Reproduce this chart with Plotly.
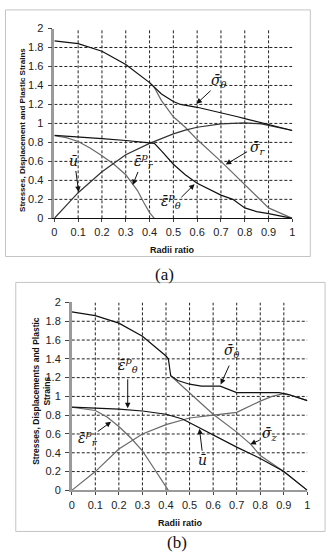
import plotly.graph_objects as go

# ---------------- data (a) ----------------
a_sig_t_x = [0, 0.1, 0.2, 0.3, 0.4, 0.45, 0.5, 0.53, 0.6, 0.7, 0.77, 0.8, 0.9, 1.0]
a_sig_t_y = [1.87, 1.84, 1.76, 1.62, 1.43, 1.31, 1.23, 1.2, 1.17, 1.115, 1.07, 1.05, 0.985, 0.925]
a_sig_r_x = [0.4, 0.42, 0.45, 0.5, 0.55, 0.6, 0.7, 0.8, 0.9, 1.0]
a_sig_r_y = [1.43, 1.38, 1.24, 1.07, 0.96, 0.83, 0.6, 0.35, 0.11, 0.0]
a_u_x = [0, 0.1, 0.2, 0.3, 0.4, 0.5, 0.55, 0.6, 0.7, 0.8, 0.87, 0.9, 1.0]
a_u_y = [0, 0.27, 0.49, 0.67, 0.79, 0.89, 0.93, 0.96, 0.995, 1.005, 0.995, 0.98, 0.925]
a_eps_r_x = [0, 0.05, 0.1, 0.15, 0.2, 0.25, 0.3, 0.35, 0.375, 0.4, 0.42]
a_eps_r_y = [0.87, 0.85, 0.81, 0.74, 0.66, 0.57, 0.46, 0.29, 0.17, 0.06, 0.0]
a_eps_t_x = [0, 0.1, 0.2, 0.3, 0.4, 0.42, 0.45, 0.5, 0.55, 0.6, 0.7, 0.75, 0.8, 0.85, 0.9, 1.0]
a_eps_t_y = [0.875, 0.86, 0.84, 0.82, 0.80, 0.79, 0.71, 0.57, 0.46, 0.37, 0.245, 0.2, 0.11, 0.07, 0.05, 0.0]

# ---------------- data (b) ----------------
b_sig_t_x = [0, 0.1, 0.2, 0.3, 0.4, 0.41, 0.42, 0.45, 0.5, 0.55, 0.63, 0.67, 0.7, 0.8, 0.88, 0.92, 1.0]
b_sig_t_y = [1.9, 1.86, 1.78, 1.64, 1.43, 1.40, 1.22, 1.17, 1.13, 1.11, 1.11, 1.07, 1.04, 1.04, 1.04, 1.02, 0.955]
b_sig_z_x = [0.42, 0.5, 0.6, 0.7, 0.76, 0.8, 0.9, 1.0]
b_sig_z_y = [1.22, 1.04, 0.81, 0.62, 0.49, 0.37, 0.2, 0.0]
b_line_x = [0, 0.1, 0.2, 0.3, 0.4, 0.47, 0.5, 0.6, 0.7, 0.8, 0.9, 1.0]
b_line_y = [0.885, 0.875, 0.865, 0.845, 0.81, 0.76, 0.72, 0.59, 0.46, 0.34, 0.2, 0.0]
b_u_x = [0, 0.1, 0.2, 0.3, 0.4, 0.47, 0.5, 0.6, 0.7, 0.8, 0.85, 0.9, 0.92, 1.0]
b_u_y = [0, 0.2, 0.44, 0.6, 0.7, 0.75, 0.77, 0.8, 0.83, 0.95, 1.0, 1.03, 1.02, 0.955]
b_eps_r_x = [0, 0.1, 0.15, 0.2, 0.25, 0.3, 0.35, 0.41]
b_eps_r_y = [0.885, 0.85, 0.78, 0.68, 0.56, 0.42, 0.23, 0.0]

x_ticks = [0, 0.1, 0.2, 0.3, 0.4, 0.5, 0.6, 0.7, 0.8, 0.9, 1]
x_tick_text = ["0", "0.1", "0.2", "0.3", "0.4", "0.5", "0.6", "0.7", "0.8", "0.9", "1"]
y_ticks = [0, 0.2, 0.4, 0.6, 0.8, 1.0, 1.2, 1.4, 1.6, 1.8, 2.0]
y_tick_text = ["0", "0.2", "0.4", "0.6", "0.8", "1", "1.2", "1.4", "1.6", "1.8", "2"]

W, H = 332, 558
BLACK = "#111111"
GRAY = "#6a6a6a"

fig = go.Figure()

def add(x, y, color, xa, ya):
    fig.add_trace(go.Scatter(x=x, y=y, mode="lines", line=dict(color=color, width=1.2),
                             xaxis=xa, yaxis=ya, showlegend=False, hoverinfo="skip"))

add(a_sig_r_x, a_sig_r_y, GRAY, "x", "y")
add(a_eps_r_x, a_eps_r_y, GRAY, "x", "y")
add(a_u_x, a_u_y, "#333333", "x", "y")
add(a_eps_t_x, a_eps_t_y, BLACK, "x", "y")
add(a_sig_t_x, a_sig_t_y, BLACK, "x", "y")

add(b_sig_z_x, b_sig_z_y, GRAY, "x2", "y2")
add(b_u_x, b_u_y, GRAY, "x2", "y2")
add(b_eps_r_x, b_eps_r_y, GRAY, "x2", "y2")
add(b_line_x, b_line_y, BLACK, "x2", "y2")
add(b_sig_t_x, b_sig_t_y, BLACK, "x2", "y2")

tickfont = dict(family="Liberation Sans Narrow, Arial Narrow, Liberation Sans", size=11, color="#222")
titlefont = dict(family="Liberation Sans, Arial", size=9, color="#111")

def xax(domain, anchor, lw, lc):
    return dict(domain=domain, anchor=anchor, range=[0, 1], tickvals=x_ticks, ticktext=x_tick_text,
                showgrid=False, zeroline=False, showline=True, linecolor=lc, linewidth=lw,
                ticks="outside", ticklen=3, tickcolor="#444", tickfont=tickfont,
                fixedrange=True)

def yax(domain, anchor):
    return dict(domain=domain, anchor=anchor, range=[0, 2], tickvals=y_ticks, ticktext=y_tick_text,
                showgrid=False, zeroline=False, showline=True, linecolor="#9a9a9a", linewidth=2.5,
                ticks="outside", ticklen=4, tickcolor="#444", tickfont=tickfont, ticklabelstandoff=2,
                fixedrange=True)

fig.update_layout(
    width=W, height=H, margin=dict(l=0, r=0, t=0, b=0),
    paper_bgcolor="white", plot_bgcolor="white",
    xaxis=xax([52.3 / W, 294.7 / W], "y", 1, "#111"),
    yaxis=yax([1 - 217 / H, 1 - 23 / H], "x"),
    xaxis2=xax([70 / W, 310 / W], "y2", 2, "#9a9a9a"),
    yaxis2=yax([1 - 495 / H, 1 - 303 / H], "x2"),
)

shapes = []
# dashed grid lines
for xr, yr in (("x", "y"), ("x2", "y2")):
    for xv in x_ticks[1:-1]:
        shapes.append(dict(type="line", xref=xr, yref=yr, x0=xv, x1=xv, y0=0, y1=2,
                           line=dict(color="#222", width=1, dash="3px,2px"), layer="below"))
    for yv in y_ticks[1:-1]:
        shapes.append(dict(type="line", xref=xr, yref=yr, x0=0, x1=1, y0=yv, y1=yv,
                           line=dict(color="#222", width=1, dash="3px,2px"), layer="below"))
# frames around each panel
shapes.append(dict(type="rect", xref="paper", yref="paper", x0=2.5 / W, x1=313 / W,
                   y0=1 - 256 / H, y1=1 - 4 / H, line=dict(color="#c4c4c4", width=1)))
shapes.append(dict(type="rect", xref="paper", yref="paper", x0=13 / W, x1=328 / W,
                   y0=1 - 537 / H, y1=1 - 282.5 / H, line=dict(color="#c4c4c4", width=1)))
fig.update_layout(shapes=shapes)

ann = []
def px(xp, yp):
    return dict(xref="paper", yref="paper", x=xp / W, y=1 - yp / H, xanchor="center", yanchor="middle")

# axis titles
ann.append(dict(**px(20, 127), text="<b>Stresses, Displacement and Plastic Strains</b>", textangle=-90,
                showarrow=False, font=dict(family="Liberation Sans, Arial", size=8, color="#111")))
ann.append(dict(**px(173, 249), text="<b>Radii ratio</b>", showarrow=False, font=titlefont))
ann.append(dict(**px(39, 393), text="<b>Stresses, Displacements and Plastic<br>Strains</b>", textangle=-90,
                showarrow=False, align="center",
                font=dict(family="Liberation Sans, Arial", size=8.5, color="#111")))
ann.append(dict(**px(181, 528), text="<b>Radii ratio</b>", showarrow=False, font=titlefont))
# panel captions
capfont = dict(family="Liberation Serif, Times New Roman", size=17, color="#111")
ann.append(dict(**px(164, 274), text="(a)", showarrow=False, font=capfont))
ann.append(dict(**px(177, 548), text="(b)", showarrow=False, font=capfont))

lblfont = dict(family="DejaVu Serif, Liberation Serif", size=14, color="#111")

def label(xr, yr, tx, ty, text, ax_, ay_, hx, hy):
    ann.append(dict(xref=xr, yref=yr, x=tx, y=ty, text=text, showarrow=False, font=lblfont,
                    xanchor="center", yanchor="middle"))
    ann.append(dict(xref=xr, yref=yr, x=hx, y=hy, axref=xr, ayref=yr, ax=ax_, ay=ay_, text="",
                    showarrow=True, arrowhead=2, arrowsize=1.1, arrowwidth=1, arrowcolor="#111",
                    standoff=0, startstandoff=0))

# (a) labels
label("x", "y", 0.692, 1.45, "<i>σ̄</i><sub><i>θ</i></sub>", 0.663, 1.36, 0.597, 1.206)
label("x", "y", 0.855, 0.742, "<i>σ̄</i><sub><i>r</i></sub>", 0.816, 0.711, 0.72, 0.567)
label("x", "y", 0.081, 0.60, "<i>ū</i>", 0.0895, 0.515, 0.102, 0.278)
label("x", "y", 0.378, 0.60, "<i>ε̄</i><sup><i>p</i></sup><sub><i>r</i></sub>", 0.354, 0.505, 0.329, 0.35)
label("x", "y", 0.49, 0.18, "<i>ε̄</i><sup><i>p</i></sup><sub><i>θ</i></sub>", 0.527, 0.206, 0.589, 0.36)

# (b) labels
label("x2", "y2", 0.68, 1.48, "<i>σ̄</i><sub><i>θ</i></sub>", 0.671, 1.344, 0.632, 1.128)
label("x2", "y2", 0.24, 1.33, "<i>ε̄</i><sup><i>p</i></sup><sub><i>θ</i></sub>", 0.2375, 1.198, 0.2375, 0.875)
label("x2", "y2", 0.07, 0.56, "<i>ε̄</i><sup><i>p</i></sup><sub><i>r</i></sub>", 0.104, 0.615, 0.167, 0.729)
label("x2", "y2", 0.554, 0.32, "<i>ū</i>", 0.554, 0.406, 0.542, 0.656)
label("x2", "y2", 0.84, 0.6, "<i>σ̄</i><sub><i>z</i></sub>", 0.804, 0.542, 0.758, 0.49)

fig.update_layout(annotations=ann)
fig.write_html("out.html")
